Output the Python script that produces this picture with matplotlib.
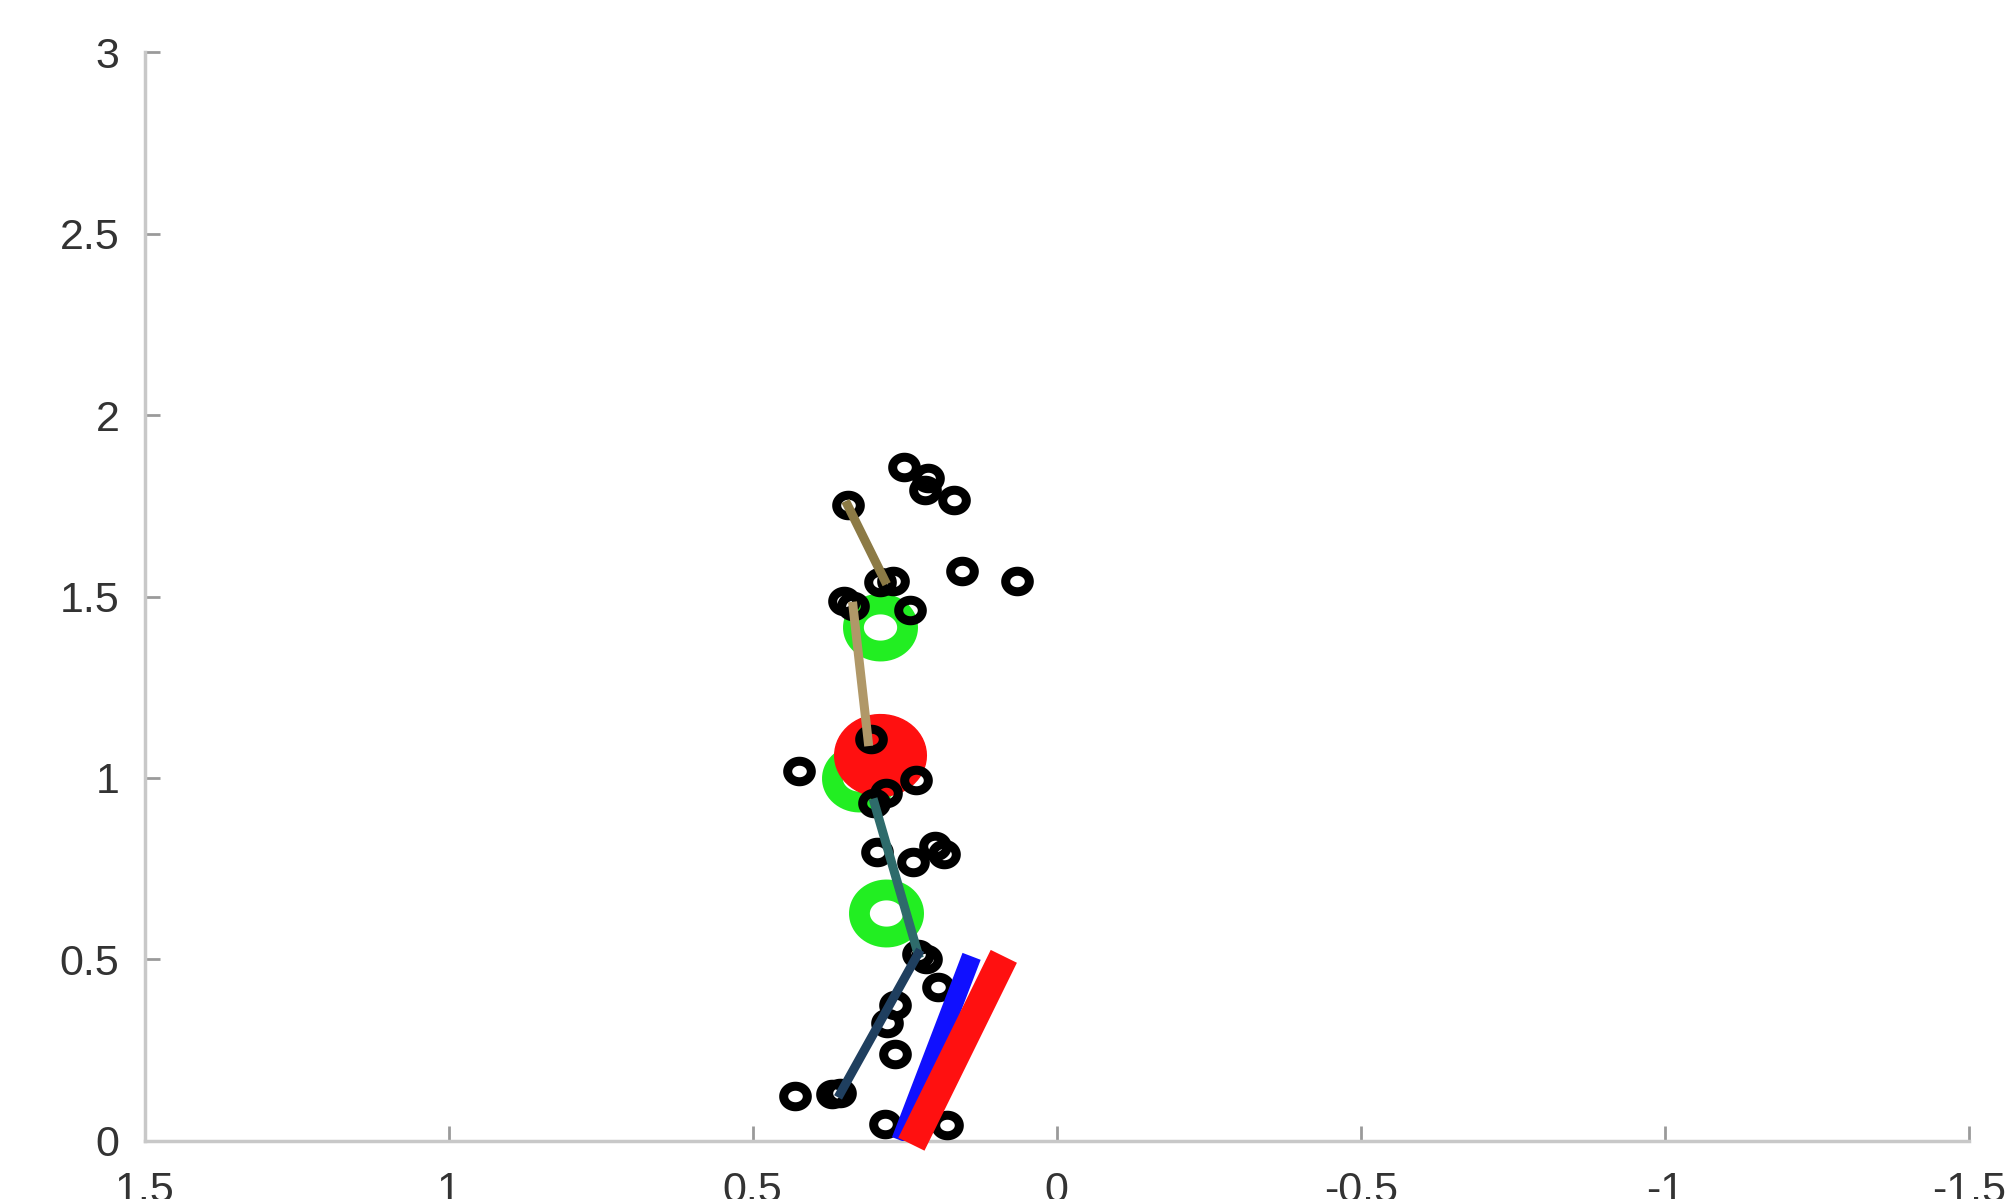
import numpy as np
import matplotlib.pyplot as plt
from matplotlib.path import Path

# 데이터
black_x = [0.251, 0.211, 0.216, 0.169, 0.344, 0.155, 0.066, 0.290, 0.270,
           0.350, 0.335, 0.241, 0.306, 0.424, 0.232, 0.281, 0.300, 0.296,
           0.237, 0.201, 0.186, 0.228, 0.215, 0.195, 0.266, 0.279, 0.266,
           0.430, 0.370, 0.356, 0.283, 0.180]
black_y = [1.858, 1.826, 1.794, 1.766, 1.752, 1.569, 1.544, 1.540, 1.542,
           1.487, 1.473, 1.463, 1.107, 1.019, 0.994, 0.959, 0.931, 0.797,
           0.768, 0.811, 0.790, 0.515, 0.500, 0.423, 0.374, 0.324, 0.240,
           0.123, 0.128, 0.130, 0.046, 0.042]

green_x = [0.291, 0.325, 0.281]
green_y = [1.417, 1.001, 0.627]

red_x = [0.291]
red_y = [1.064]

# 연결 선분 (x 두 점, y 두 점, 색)
seg_x = [[0.344, 0.283], [0.335, 0.310], [0.300, 0.228], [0.228, 0.356]]
seg_y = [[1.752, 1.545], [1.473, 1.100], [0.931, 0.515], [0.515, 0.130]]
seg_colors = ['#8c7a45', '#b09868', '#2e6b6b', '#1f3f5f']

blue_x = [0.256, 0.140]
blue_y = [0.0, 0.508]
red_line_x = [0.239, 0.087]
red_line_y = [-0.01, 0.508]

xticks = [1.5, 1, 0.5, 0, -0.5, -1, -1.5]
xlabels = ['1.5', '1', '0.5', '0', '-0.5', '-1', '-1.5']
yticks = [0, 0.5, 1, 1.5, 2, 2.5, 3]
ylabels = ['0', '0.5', '1', '1.5', '2', '2.5', '3']


# 가로로 약간 넓은 원 마커
def oval(aspect):
    t = np.linspace(0, 2 * np.pi, 60)
    return Path(np.column_stack([aspect * np.cos(t), np.sin(t)]), closed=True)


plt.rcParams['font.family'] = ['Liberation Sans', 'DejaVu Sans']

fig = plt.figure(figsize=(20.05, 11.99), dpi=100)
ax = fig.add_axes([0.0721, 0.0487, 0.9099, 0.9076])

ax.plot(green_x, green_y, ls='none', marker=oval(1.15), ms=39, mfc='none',
        mec='#22ee22', mew=15, zorder=2)
ax.plot(red_x, red_y, ls='none', marker=oval(1.12), ms=66, mfc='#ff1010',
        mec='#ff1010', zorder=3)
ax.plot(black_x, black_y, ls='none', marker=oval(1.15), ms=17, mfc='none',
        mec='black', mew=6.5, zorder=4)

for sx, sy, c in zip(seg_x, seg_y, seg_colors):
    ax.plot(sx, sy, '-', color=c, lw=6.5, zorder=5)

ax.plot(blue_x, blue_y, '-', color='#1010ff', lw=14, solid_capstyle='butt', zorder=6)
ax.plot(red_line_x, red_line_y, '-', color='#ff1010', lw=21, solid_capstyle='butt',
        zorder=7, clip_on=False)

ax.set_xlim(1.5, -1.5)
ax.set_ylim(0, 3)
ax.set_xticks(xticks)
ax.set_xticklabels(xlabels)
ax.set_yticks(yticks)
ax.set_yticklabels(ylabels)

ax.spines['top'].set_visible(False)
ax.spines['right'].set_visible(False)
for s in ['left', 'bottom']:
    ax.spines[s].set_color('#c8c8c8')
    ax.spines[s].set_linewidth(2.5)
ax.tick_params(direction='in', length=11, width=2, color='#9a9a9a',
               labelsize=31, labelcolor='#333333')
ax.tick_params(axis='x', pad=22)
ax.tick_params(axis='y', pad=18)

fig.savefig('out.png', dpi=100)
